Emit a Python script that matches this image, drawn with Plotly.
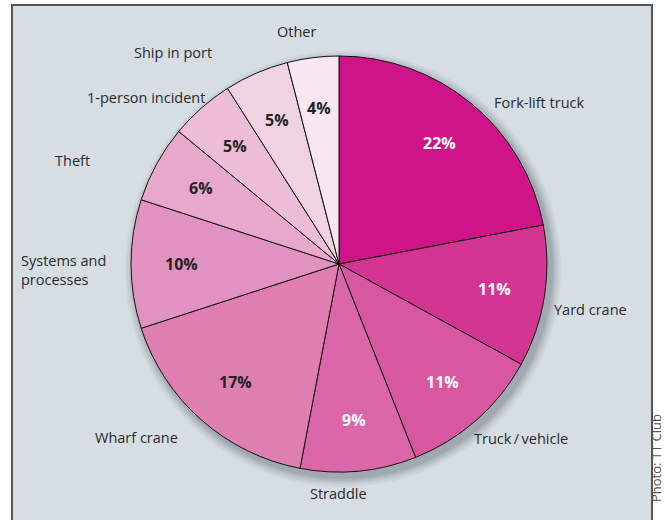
import math
import plotly.graph_objects as go

# ---- data ----
categories = ["Fork-lift truck", "Yard crane", "Truck/vehicle", "Straddle", "Wharf crane",
              "Systems and processes", "Theft", "1-person incident", "Ship in port", "Other"]
shares = [22, 11, 11, 9, 17, 10, 6, 5, 5, 4]
display_labels = ["Fork-lift truck", "Yard crane", "Truck\u2009/\u2009vehicle", "Straddle", "Wharf crane",
                  "Systems and<br>processes", "Theft", "1-person incident", "Ship in port", "Other"]

# ---- style ----
colors = ["#cf148a", "#d43592", "#d757a0", "#db66a9", "#de7eb1",
          "#e292c0", "#e7a8cb", "#ecbcd8", "#f1d2e3", "#f8e6f0"]
pct_colors = ["white"] * 4 + ["#222222"] * 6
# outside label positions in pixels (x, y, xanchor)
label_pos = [(539, 102, "center"), (590, 309, "center"), (521, 438, "center"),
             (338, 493, "center"), (136, 437, "center"), (19, 270, "left"),
             (72, 160, "center"), (146, 98, "center"), (173, 53, "center"),
             (296, 31, "center")]

W, H = 665, 520
cx, cy, R = 339, 264, 208
ml, mt = cx - R, cy - R
mr, mb = W - (cx + R), H - (cy + R)
FONT = "Open Sans"


def px2paper(px, py):
    return (px - ml) / (2 * R), (H - mb - py) / (2 * R)


fig = go.Figure(go.Pie(
    labels=categories, values=shares, sort=False, direction="clockwise", rotation=0,
    marker=dict(colors=colors, line=dict(color="#111111", width=1)),
    textinfo="none", hoverinfo="label+percent", showlegend=False,
    domain=dict(x=[0, 1], y=[0, 1]),
))

annotations = []
total = sum(shares)
cum = 0
for i, v in enumerate(shares):
    mid = (cum + v / 2) / total * 2 * math.pi
    cum += v
    r = 0.755 * R
    px = cx + r * math.sin(mid)
    py = cy - r * math.cos(mid)
    x, y = px2paper(px, py)
    annotations.append(dict(x=x, y=y, xref="paper", yref="paper", showarrow=False,
                            xanchor="center", yanchor="middle",
                            text=f"<b>{v}%</b>",
                            font=dict(family=FONT, size=16, color=pct_colors[i])))
    lx, ly, anc = label_pos[i]
    x, y = px2paper(lx, ly)
    annotations.append(dict(x=x, y=y, xref="paper", yref="paper", showarrow=False,
                            text=display_labels[i], xanchor=anc, yanchor="middle", align="left",
                            font=dict(family=FONT, size=14.5, color="#2a2a2a")))

x, y = px2paper(656, 458)
annotations.append(dict(x=x, y=y, xref="paper", yref="paper", showarrow=False,
                        xanchor="center", yanchor="middle",
                        text="Photo: TT Club", textangle=-90,
                        font=dict(family=FONT, size=13, color="#555555")))

shapes = []
# frame
x0, y0 = px2paper(12, 5)
x1, y1 = px2paper(652, 540)
shapes.append(dict(type="rect", xref="paper", yref="paper", x0=x0, y0=y1, x1=x1, y1=y0,
                   fillcolor="#d6dee3", line=dict(color="#555555", width=2), layer="below"))
# soft shadow
for k, op in [(10, 0.05), (8, 0.06), (6, 0.07), (4, 0.09), (2, 0.12)]:
    sx0, sy0 = px2paper(cx + 4 - R - k, cy + 5 - R - k)
    sx1, sy1 = px2paper(cx + 4 + R + k, cy + 5 + R + k)
    shapes.append(dict(type="circle", xref="paper", yref="paper", x0=sx0, y0=sy1, x1=sx1, y1=sy0,
                       fillcolor=f"rgba(60,70,80,{op})", line=dict(width=0), layer="below"))

fig.update_layout(
    width=W, height=H, margin=dict(l=ml, r=mr, t=mt, b=mb, autoexpand=False),
    paper_bgcolor="white", plot_bgcolor="white",
    annotations=annotations, shapes=shapes,
    font=dict(family=FONT),
)

fig.write_html("out.html")
